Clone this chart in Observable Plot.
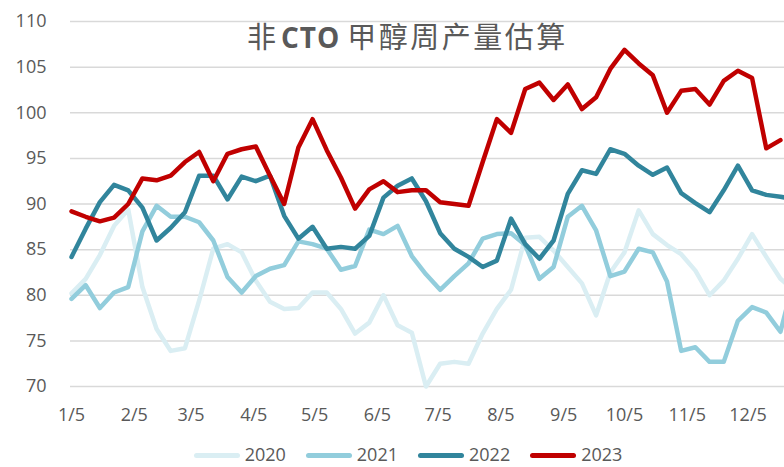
<!DOCTYPE html>
<html>
<head>
<meta charset="utf-8">
<script src="https://cdn.jsdelivr.net/npm/d3@7"></script>
<script src="https://cdn.jsdelivr.net/npm/@observablehq/plot@0.6"></script>
<style>
  html, body { margin: 0; padding: 0; background: #fff; overflow: hidden; }
  #wrap { position: relative; width: 784px; height: 467px; font-family: "Open Sans", sans-serif; }
  #title { position: absolute; top: 21px; left: 247px; white-space: nowrap; font-family: "Noto Sans CJK SC", sans-serif; font-size: 29px; line-height: 29px; color: #595959; }
  #title .lat { font-family: "Open Sans", sans-serif; font-weight: bold; font-size: 28px; letter-spacing: 1px; margin-left: 5px; margin-right: 7px; }
  #title .cjk { letter-spacing: 2.5px; }
  #legend { position: absolute; top: 445px; left: 0; width: 816px; height: 19px; display: flex; justify-content: center; align-items: center; font-size: 18px; line-height: 19px; color: #595959; }
  .item { display: flex; align-items: center; margin: 0 10px; height: 19px; }
  .sw { width: 46px; height: 5px; border-radius: 3px; margin-right: 5px; margin-top: 2px; }
</style>
</head>
<body>
<div id="wrap">
  <div id="chart"></div>
  <div id="title">非<span class="lat">CTO</span><span class="cjk">甲醇周产量估算</span></div>
  <div id="legend"></div>
</div>
<script>
// ---- data ----
const tickLabels = ["1/5","2/5","3/5","4/5","5/5","6/5","7/5","8/5","9/5","10/5","11/5","12/5"];
const yTicks = [70, 75, 80, 85, 90, 95, 100, 105, 110];
const seriesNames = ["2020", "2021", "2022", "2023"];
const seriesColors = ["#DAEEF3", "#92CDDC", "#31859C", "#C00000"];
const firstWeek = "2023-01-05";

const v2020 = [80.2, 81.8, 84.4, 87.6, 89.4, 80.9, 76.3, 73.9, 74.2, 79.4,
               85.1, 85.6, 84.7, 81.6, 79.3, 78.5, 78.6, 80.3, 80.3, 78.5,
               75.8, 77.0, 80.0, 76.7, 75.9, 70.0, 72.5, 72.7, 72.5, 75.8,
               78.5, 80.6, 86.3, 86.4, 84.9, 83.1, 81.3, 77.8, 82.5, 84.7,
               89.3, 86.7, 85.5, 84.5, 82.7, 80.0, 81.6, 84.0, 86.7, 84.2,
               81.8, 80.5];
const v2021 = [79.6, 81.1, 78.6, 80.3, 80.9, 87.0, 89.8, 88.6, 88.6, 88.0,
               86.0, 82.0, 80.3, 82.1, 82.9, 83.3, 85.9, 85.6, 85.1, 82.8,
               83.2, 87.2, 86.7, 87.6, 84.3, 82.3, 80.6, 82.1, 83.5, 86.2,
               86.7, 86.8, 85.5, 81.8, 83.1, 88.6, 89.8, 87.1, 82.1, 82.6,
               85.1, 84.7, 81.5, 73.9, 74.3, 72.7, 72.7, 77.2, 78.7, 78.1,
               76.0, 82.0];
const v2022 = [84.2, 87.3, 90.2, 92.1, 91.5, 89.6, 86.0, 87.4, 89.1, 93.1,
               93.1, 90.5, 93.0, 92.5, 93.1, 88.7, 86.2, 87.5, 85.1, 85.3,
               85.1, 86.5, 90.7, 92.0, 92.8, 90.3, 86.8, 85.1, 84.2, 83.1,
               83.8, 88.4, 85.6, 84.0, 86.0, 91.1, 93.7, 93.3, 96.0, 95.5,
               94.2, 93.2, 94.0, 91.2, 90.1, 89.1, 91.5, 94.2, 91.5, 91.0,
               90.8, 90.5];
const v2023 = [89.2, 88.6, 88.1, 88.5, 90.0, 92.8, 92.6, 93.1, 94.6, 95.7,
               92.5, 95.5, 96.0, 96.3, 93.1, 90.0, 96.2, 99.3, 95.9, 92.9,
               89.5, 91.6, 92.5, 91.3, 91.5, 91.5, 90.2, 90.0, 89.8, 94.6,
               99.3, 97.8, 102.6, 103.3, 101.4, 103.1, 100.4, 101.7, 104.8, 106.9,
               105.4, 104.1, 100.0, 102.4, 102.6, 100.9, 103.5, 104.6, 103.8, 96.1,
               97.0];
const seriesValues = [v2020, v2021, v2022, v2023];

// ---- build ----
const start = new Date(firstWeek + "T00:00:00Z");
const tickDates = tickLabels.map(s => { const [m, d] = s.split("/").map(Number); return new Date(Date.UTC(2023, m - 1, d)); });
const fmt = d3.utcFormat("%-m/%-d");

const lineMarks = seriesValues.map((vals, si) => {
  const data = vals.map((v, i) => ({date: d3.utcDay.offset(start, 7 * i), value: v}));
  return Plot.line(data, {x: "date", y: "value", stroke: seriesColors[si], strokeWidth: 4.5,
    strokeLinejoin: "round", strokeLinecap: "round"});
});

const chart = Plot.plot({
  width: 784,
  height: 432,
  marginLeft: 70,
  marginRight: 0,
  marginTop: 21,
  marginBottom: 46,
  style: {fontFamily: "Open Sans, sans-serif", fontSize: "18px", color: "#595959", background: "#fff"},
  x: {type: "utc", domain: [d3.utcHour.offset(start, -12), d3.utcDay.offset(start, 352)]},
  y: {domain: [70, 110]},
  marks: [
    Plot.ruleY(yTicks, {stroke: "#D9D9D9", strokeWidth: 1.5}),
    Plot.axisY({ticks: yTicks, tickSize: 0, tickPadding: 24, fontSize: 18, label: null}),
    Plot.axisX({ticks: tickDates, tickFormat: fmt, tickSize: 0, tickPadding: 22, fontSize: 18, label: null}),
    ...lineMarks
  ]
});
document.getElementById("chart").appendChild(chart);

const legend = document.getElementById("legend");
seriesNames.forEach((name, i) => {
  const item = document.createElement("div");
  item.className = "item";
  const sw = document.createElement("span");
  sw.className = "sw";
  sw.style.background = seriesColors[i];
  const t = document.createElement("span");
  t.textContent = name;
  item.appendChild(sw);
  item.appendChild(t);
  legend.appendChild(item);
});
</script>
</body>
</html>
